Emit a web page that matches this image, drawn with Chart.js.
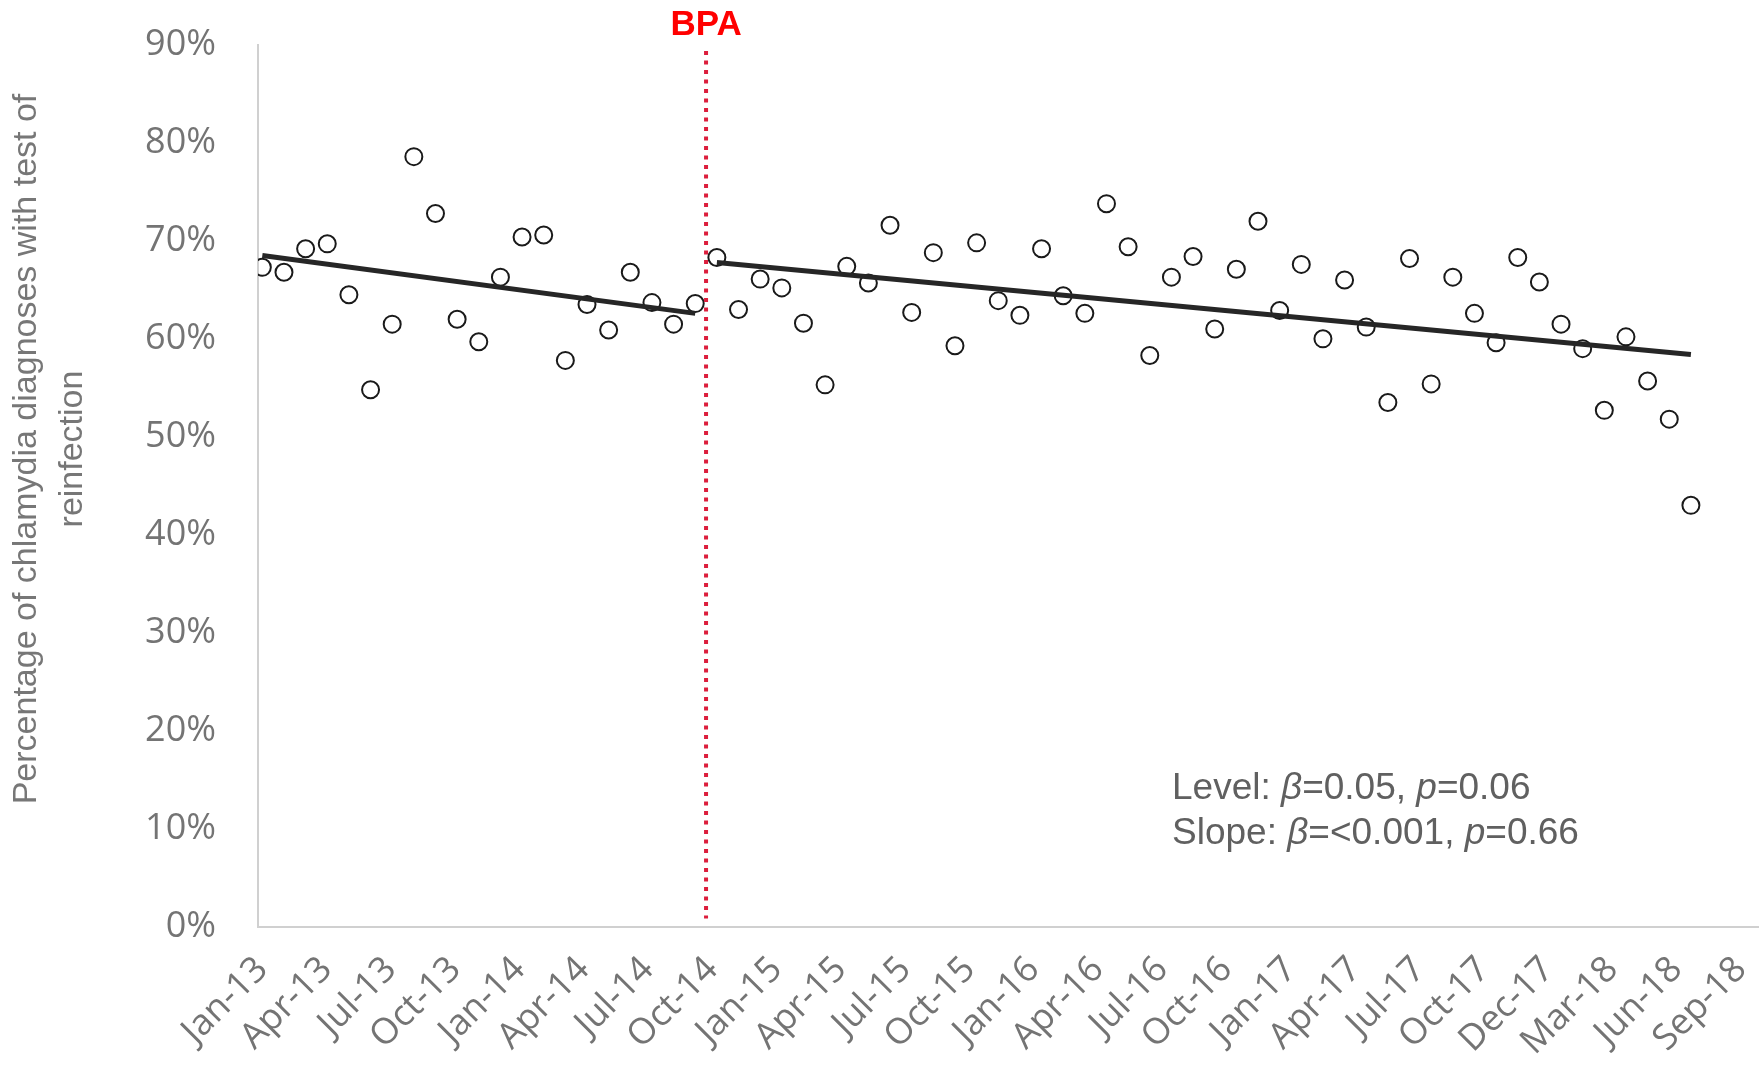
<!DOCTYPE html>
<html>
<head>
<meta charset="utf-8">
<script src="https://cdn.jsdelivr.net/npm/chart.js@4.4.0/dist/chart.umd.min.js"></script>
<style>
  html, body { margin: 0; padding: 0; background: #fff; overflow: hidden; }
  #wrap { width: 1761px; height: 1066px; }
  canvas { display: block; }
</style>
</head>
<body>
<div id="wrap"><canvas id="chart"></canvas></div>
<script>
// monthly % of chlamydia diagnoses with a test of reinfection, from Jan-13
const reinfectionPct = [
  67.3, 66.8, 69.2, 69.7, 64.5, 54.8, 61.5, 78.6, 72.8, 62.0,
  59.7, 66.3, 70.4, 70.6, 57.8, 63.5, 60.9, 66.8, 63.7, 61.5,
  63.6, 68.3, 63.0, 66.1, 65.2, 61.6, 55.3, 67.4, 65.7, 71.6,
  62.7, 68.8, 59.3, 69.8, 63.9, 62.4, 69.2, 64.4, 62.6, 73.8,
  69.4, 58.3, 66.3, 68.4, 61.0, 67.1, 72.0, 62.9, 67.6, 60.0,
  66.0, 61.2, 53.5, 68.2, 55.4, 66.3, 62.6, 59.6, 68.3, 65.8,
  61.5, 59.0, 52.7, 60.2, 55.7, 51.8, 43.0
];

// x axis labels (as printed on the original axis)
const tickLabels = [
  'Jan-13', 'Apr-13', 'Jul-13', 'Oct-13', 'Jan-14', 'Apr-14', 'Jul-14', 'Oct-14',
  'Jan-15', 'Apr-15', 'Jul-15', 'Oct-15', 'Jan-16', 'Apr-16', 'Jul-16', 'Oct-16',
  'Jan-17', 'Apr-17', 'Jul-17', 'Oct-17', 'Dec-17', 'Mar-18', 'Jun-18', 'Sep-18'
];

// fitted segments before / after the BPA
const trendPreX = [0, 20];
const trendPreY = [68.5, 62.6];
const trendPostX = [21, 66];
const trendPostY = [67.8, 58.4];

const bpaMonth = 20.5;
const yTitle = ['Percentage of chlamydia diagnoses with test of', 'reinfection'];

const TICK_STEP = 2.97;

const toPoints = (xs, ys) => xs.map((x, i) => ({ x: x, y: ys[i] }));

// BPA line, labels and the regression note
const overlay = {
  id: 'overlay',
  afterDatasetsDraw(chart) {
    const { ctx, chartArea, scales } = chart;
    const bx = scales.x.getPixelForValue(bpaMonth);
    ctx.save();
    ctx.strokeStyle = '#dc1e3c';
    ctx.lineWidth = 4;
    ctx.setLineDash([4, 5.5]);
    ctx.beginPath();
    ctx.moveTo(bx, chartArea.top + 6);
    ctx.lineTo(bx, chartArea.bottom - 8);
    ctx.stroke();
    ctx.restore();
  },
  afterDraw(chart) {
    const { ctx, chartArea, scales } = chart;
    const bx = scales.x.getPixelForValue(bpaMonth);
    ctx.save();
    ctx.fillStyle = '#ff0000';
    ctx.font = 'bold 35px "Liberation Sans", Arial, sans-serif';
    ctx.textAlign = 'center';
    ctx.textBaseline = 'middle';
    ctx.fillText('BPA', bx, 25);

    // y axis title
    ctx.fillStyle = '#777777';
    ctx.font = '34px "Liberation Sans", Arial, sans-serif';
    ctx.translate(27, 449);
    ctx.rotate(-Math.PI / 2);
    ctx.fillText(yTitle[0], 0, 0);
    ctx.fillText(yTitle[1], 0, 46);
    ctx.restore();

    // note with italic symbols
    const lines = [
      [['Level: ', 0], ['β', 1], ['=0.05, ', 0], ['p', 1], ['=0.06', 0]],
      [['Slope: ', 0], ['β', 1], ['=<0.001, ', 0], ['p', 1], ['=0.66', 0]]
    ];
    ctx.save();
    ctx.fillStyle = '#606060';
    ctx.textBaseline = 'middle';
    lines.forEach((parts, li) => {
      let x = chartArea.left + 914;
      const y = 789 + li * 45;
      parts.forEach(([txt, it]) => {
        ctx.font = (it ? 'italic ' : '') + '37px "Liberation Sans", Arial, sans-serif';
        ctx.fillText(txt, x, y);
        x += ctx.measureText(txt).width;
      });
    });
    ctx.restore();
  }
};

new Chart(document.getElementById('chart'), {
  type: 'scatter',
  data: {
    datasets: [
      {
        label: 'Pre-BPA trend',
        data: toPoints(trendPreX, trendPreY),
        showLine: true,
        borderColor: '#262626',
        borderWidth: 5,
        pointRadius: 0,
        order: 0
      },
      {
        label: 'Post-BPA trend',
        data: toPoints(trendPostX, trendPostY),
        showLine: true,
        borderColor: '#262626',
        borderWidth: 5,
        pointRadius: 0,
        order: 0
      },
      {
        label: 'Test of reinfection',
        data: reinfectionPct.map((v, i) => ({ x: i, y: v })),
        pointRadius: 8.5,
        pointBorderWidth: 2,
        borderColor: '#1a1a1a',
        backgroundColor: 'rgba(255,255,255,0)',
        order: 1
      }
    ]
  },
  options: {
    responsive: true,
    maintainAspectRatio: false,
    animation: false,
    layout: { autoPadding: false, padding: { top: 45, right: 3, left: 0, bottom: 0 } },
    plugins: {
      legend: { display: false },
      tooltip: { enabled: false }
    },
    scales: {
      x: {
        type: 'linear',
        min: -0.2,
        max: 69.1,
        grid: { display: false, drawTicks: false },
        border: { color: '#d0d0d0', width: 2 },
        afterBuildTicks: (s) => {
          s.ticks = tickLabels.map((_, i) => ({ value: i * TICK_STEP }));
        },
        afterFit: (s) => {
          s.height = 139.5;
          s.paddingLeft = 0;
          s.paddingRight = 0;
        },
        ticks: {
          autoSkip: false,
          minRotation: 45,
          maxRotation: 45,
          padding: 22,
          color: '#747474',
          font: { family: 'Open Sans', size: 36 },
          callback: (v, i) => tickLabels[i]
        }
      },
      y: {
        min: 0,
        max: 90,
        grid: { display: false, drawTicks: false },
        border: { color: '#d0d0d0', width: 2 },
        afterFit: (s) => {
          s.width = 258;
          s.paddingTop = 0;
          s.paddingBottom = 0;
        },
        ticks: {
          stepSize: 10,
          padding: 42,
          color: '#747474',
          font: { family: 'Open Sans', size: 36 },
          callback: (v) => v + '%'
        }
      }
    }
  },
  plugins: [overlay]
});
</script>
</body>
</html>
